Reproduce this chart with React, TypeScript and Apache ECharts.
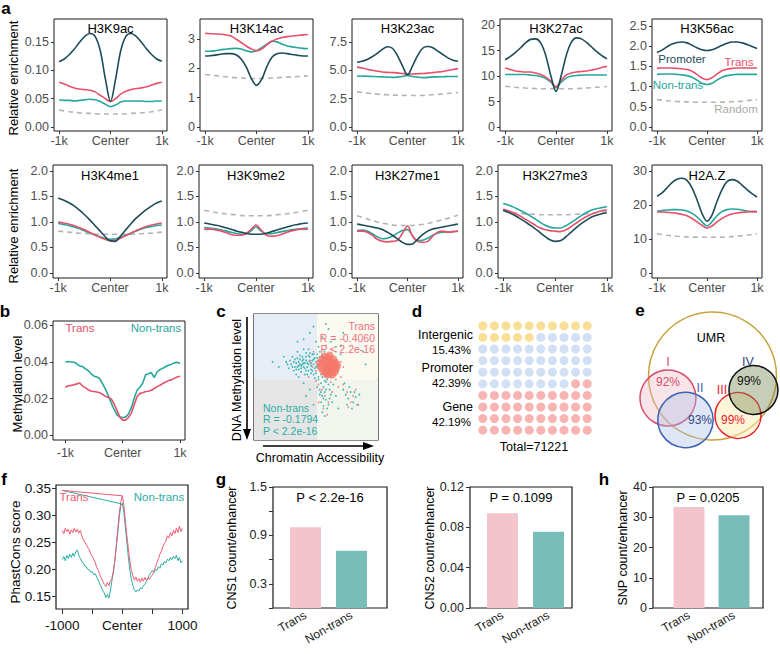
import React, { useEffect, useRef } from "react";
import * as echarts from "echarts";

const FONT = "'Liberation Sans', Arial, Helvetica, sans-serif";
const C_PRO = "#1d4b59";
const C_TR = "#e8506a";
const C_NT = "#25a69b";
const C_RD = "#b3b3b3";

// ---------------- panel a : enrichment profiles ----------------
const XS = [-1000, -900, -800, -700, -600, -500, -400, -300, -200, -100, 0, 100, 200, 300, 400, 500, 600, 700, 800, 900, 1000];
const XR = [-1000, -800, -600, -400, -200, 0, 200, 400, 600, 800, 1000];
const markTitles = ["H3K9ac", "H3K14ac", "H3K23ac", "H3K27ac", "H3K56ac", "H3K4me1", "H3K9me2", "H3K27me1", "H3K27me3", "H2A.Z"];

const h3k9acPro = [0.115, 0.12, 0.128, 0.138, 0.15, 0.16, 0.165, 0.16, 0.135, 0.085, 0.045, 0.085, 0.135, 0.16, 0.165, 0.16, 0.15, 0.138, 0.128, 0.12, 0.116];
const h3k9acTr = [0.079, 0.076, 0.072, 0.069, 0.067, 0.066, 0.065, 0.062, 0.056, 0.05, 0.045, 0.05, 0.058, 0.063, 0.066, 0.068, 0.069, 0.071, 0.074, 0.077, 0.079];
const h3k9acNt = [0.048, 0.047, 0.047, 0.046, 0.047, 0.048, 0.049, 0.048, 0.045, 0.04, 0.036, 0.039, 0.044, 0.046, 0.046, 0.046, 0.046, 0.045, 0.045, 0.046, 0.046];
const h3k9acRd = [0.03, 0.027, 0.025, 0.024, 0.023, 0.023, 0.023, 0.024, 0.025, 0.027, 0.03];

const h3k14acPro = [2.42, 2.43, 2.45, 2.48, 2.5, 2.5, 2.46, 2.32, 2.05, 1.65, 1.42, 1.62, 2.05, 2.38, 2.5, 2.52, 2.5, 2.47, 2.44, 2.42, 2.42];
const h3k14acTr = [3.19, 3.18, 3.17, 3.16, 3.14, 3.1, 3.0, 2.88, 2.76, 2.66, 2.6, 2.66, 2.8, 2.92, 3.0, 3.05, 3.08, 3.1, 3.12, 3.14, 3.15];
const h3k14acNt = [2.58, 2.58, 2.6, 2.63, 2.65, 2.67, 2.68, 2.66, 2.6, 2.56, 2.6, 2.7, 2.82, 2.92, 2.9, 2.82, 2.76, 2.73, 2.7, 2.68, 2.67];
const h3k14acRd = [1.79, 1.75, 1.71, 1.68, 1.66, 1.65, 1.66, 1.68, 1.7, 1.72, 1.74];

const h3k23acPro = [5.72, 5.8, 5.95, 6.2, 6.5, 6.85, 7.08, 6.95, 6.3, 5.4, 4.6, 5.4, 6.3, 6.95, 7.1, 7.0, 6.7, 6.4, 6.1, 5.9, 5.8];
const h3k23acTr = [5.28, 5.2, 5.1, 5.0, 4.92, 4.86, 4.82, 4.8, 4.78, 4.72, 4.68, 4.68, 4.7, 4.72, 4.75, 4.8, 4.85, 4.9, 4.98, 5.08, 5.15];
const h3k23acNt = [4.48, 4.5, 4.48, 4.46, 4.44, 4.42, 4.4, 4.38, 4.4, 4.45, 4.55, 4.45, 4.4, 4.36, 4.38, 4.42, 4.42, 4.44, 4.45, 4.46, 4.46];
const h3k23acRd = [3.1, 3.0, 2.9, 2.84, 2.8, 2.78, 2.78, 2.82, 2.88, 2.96, 3.05];

const h3k27acPro = [13.2, 13.8, 14.6, 15.5, 16.5, 17.2, 17.3, 16.5, 14.0, 10.0, 7.0, 10.0, 14.0, 16.6, 17.5, 17.3, 16.6, 15.7, 14.8, 14.0, 13.4];
const h3k27acTr = [11.6, 11.3, 11.0, 10.9, 10.8, 10.8, 10.6, 10.3, 9.8, 9.0, 7.9, 9.2, 10.2, 10.6, 10.8, 10.9, 11.0, 11.2, 11.4, 11.7, 11.9];
const h3k27acNt = [10.3, 10.3, 10.3, 10.3, 10.3, 10.2, 10.1, 9.9, 9.5, 8.8, 7.7, 8.8, 9.6, 10.0, 10.1, 10.2, 10.2, 10.2, 10.2, 10.2, 10.2];
const h3k27acRd = [8.0, 7.8, 7.65, 7.55, 7.5, 7.5, 7.5, 7.55, 7.65, 7.8, 7.95];

const h3k56acPro = [1.84, 1.9, 1.98, 2.05, 2.09, 2.1, 2.08, 2.02, 1.96, 1.91, 1.89, 1.91, 1.96, 2.02, 2.07, 2.1, 2.1, 2.08, 2.04, 1.99, 1.94];
const h3k56acTr = [1.45, 1.46, 1.46, 1.46, 1.45, 1.44, 1.42, 1.38, 1.3, 1.21, 1.17, 1.22, 1.31, 1.39, 1.43, 1.45, 1.46, 1.46, 1.46, 1.46, 1.46];
const h3k56acNt = [1.3, 1.31, 1.31, 1.31, 1.3, 1.29, 1.27, 1.23, 1.16, 1.08, 1.05, 1.08, 1.16, 1.23, 1.27, 1.29, 1.3, 1.3, 1.3, 1.3, 1.3];
const h3k56acRd = [0.68, 0.65, 0.63, 0.62, 0.61, 0.61, 0.61, 0.62, 0.63, 0.65, 0.68];

const h3k4me1Pro = [1.47, 1.43, 1.38, 1.32, 1.24, 1.15, 1.05, 0.94, 0.83, 0.72, 0.63, 0.62, 0.72, 0.84, 0.96, 1.07, 1.16, 1.24, 1.31, 1.37, 1.41];
const h3k4me1Tr = [1.0, 0.98, 0.96, 0.93, 0.89, 0.85, 0.8, 0.75, 0.7, 0.66, 0.63, 0.64, 0.68, 0.73, 0.78, 0.83, 0.87, 0.91, 0.94, 0.96, 0.98];
const h3k4me1Nt = [0.97, 0.95, 0.93, 0.9, 0.87, 0.83, 0.79, 0.75, 0.71, 0.68, 0.66, 0.67, 0.7, 0.74, 0.78, 0.82, 0.86, 0.89, 0.91, 0.93, 0.94];
const h3k4me1Rd = [0.82, 0.8, 0.78, 0.77, 0.76, 0.76, 0.76, 0.76, 0.77, 0.78, 0.8];

const h3k9me2Pro = [0.98, 0.96, 0.94, 0.92, 0.89, 0.86, 0.83, 0.8, 0.78, 0.76, 0.76, 0.76, 0.78, 0.81, 0.84, 0.87, 0.9, 0.93, 0.95, 0.97, 0.98];
const h3k9me2Tr = [0.86, 0.86, 0.85, 0.83, 0.8, 0.76, 0.74, 0.74, 0.77, 0.85, 0.94, 0.84, 0.74, 0.72, 0.73, 0.76, 0.8, 0.83, 0.85, 0.86, 0.86];
const h3k9me2Nt = [0.89, 0.88, 0.87, 0.85, 0.83, 0.8, 0.78, 0.76, 0.76, 0.82, 0.9, 0.82, 0.77, 0.77, 0.79, 0.81, 0.83, 0.85, 0.86, 0.87, 0.88];
const h3k9me2Rd = [1.23, 1.19, 1.16, 1.14, 1.12, 1.12, 1.12, 1.14, 1.16, 1.19, 1.23];

const h3k27me1Pro = [0.96, 0.94, 0.92, 0.9, 0.88, 0.85, 0.8, 0.74, 0.67, 0.6, 0.56, 0.57, 0.66, 0.75, 0.82, 0.86, 0.88, 0.9, 0.92, 0.94, 0.96];
const h3k27me1Tr = [0.82, 0.82, 0.8, 0.74, 0.66, 0.62, 0.61, 0.62, 0.64, 0.78, 0.92, 0.72, 0.62, 0.6, 0.62, 0.72, 0.8, 0.82, 0.8, 0.81, 0.82];
const h3k27me1Nt = [0.83, 0.84, 0.82, 0.77, 0.71, 0.67, 0.68, 0.72, 0.78, 0.83, 0.85, 0.73, 0.63, 0.64, 0.68, 0.74, 0.78, 0.8, 0.8, 0.81, 0.82];
const h3k27me1Rd = [1.12, 1.06, 1.0, 0.96, 0.93, 0.93, 0.94, 0.97, 1.02, 1.07, 1.13];

const h3k27me3Pro = [1.23, 1.19, 1.14, 1.08, 1.02, 0.95, 0.88, 0.8, 0.72, 0.65, 0.62, 0.63, 0.7, 0.79, 0.88, 0.96, 1.03, 1.09, 1.13, 1.16, 1.18];
const h3k27me3Tr = [1.25, 1.22, 1.18, 1.13, 1.07, 1.01, 0.95, 0.89, 0.85, 0.83, 0.82, 0.81, 0.84, 0.9, 0.97, 1.04, 1.1, 1.15, 1.19, 1.22, 1.24];
const h3k27me3Nt = [1.36, 1.33, 1.29, 1.24, 1.19, 1.13, 1.07, 1.0, 0.94, 0.9, 0.88, 0.88, 0.92, 0.98, 1.05, 1.12, 1.18, 1.23, 1.26, 1.28, 1.3];
const h3k27me3Rd = [1.22, 1.18, 1.16, 1.15, 1.14, 1.14, 1.14, 1.15, 1.16, 1.18, 1.21];

const h2azPro = [22.5, 23.5, 25.0, 26.5, 27.5, 27.8, 27.2, 25.0, 21.5, 17.5, 15.2, 17.0, 21.0, 24.5, 26.8, 27.4, 27.0, 25.8, 24.5, 23.3, 22.3];
const h2azTr = [17.9, 17.9, 17.8, 17.7, 17.5, 17.2, 16.8, 16.0, 15.0, 14.0, 13.2, 13.8, 15.0, 16.0, 16.8, 17.3, 17.6, 17.8, 17.9, 18.0, 18.0];
const h2azNt = [18.1, 18.3, 18.5, 18.6, 18.6, 18.5, 18.2, 17.5, 16.5, 15.0, 13.8, 15.0, 16.8, 18.0, 18.6, 18.8, 18.7, 18.5, 18.2, 18.0, 18.0];
const h2azRd = [11.5, 11.1, 10.8, 10.6, 10.5, 10.5, 10.5, 10.6, 10.8, 11.1, 11.5];

const aTickLabels = ["-1k", "Center", "1k"];
const aYTicks = [
  [0, 0.05, 0.1, 0.15], [0, 1, 2, 3], [0, 2.5, 5, 7.5], [0, 5, 10, 15, 20], [0, 0.5, 1, 1.5, 2, 2.5],
  [0, 0.5, 1, 1.5, 2], [0, 0.5, 1, 1.5, 2], [0, 0.5, 1, 1.5, 2], [0, 0.5, 1, 1.5, 2], [0, 10, 20, 30],
];
const aYDecimals = [2, 0, 1, 0, 1, 1, 1, 1, 1, 0];
const aLegend = ["Promoter", "Trans", "Non-trans", "Random"];

// ---------------- panel b : methylation ----------------
const XB = [-1000, -950, -900, -850, -800, -750, -700, -650, -600, -550, -500, -450, -400, -350, -300, -250, -200, -150, -100, -50, 0, 50, 100, 150, 200, 250, 300, 350, 400, 450, 500, 550, 600, 650, 700, 750, 800, 850, 900, 950, 1000];
const bNonTrans = [0.04, 0.0402, 0.04, 0.0398, 0.039, 0.0378, 0.0375, 0.0362, 0.0352, 0.0335, 0.0322, 0.0318, 0.0308, 0.028, 0.025, 0.0215, 0.0175, 0.014, 0.011, 0.0098, 0.0096, 0.0098, 0.0115, 0.015, 0.02, 0.0245, 0.0262, 0.0285, 0.033, 0.0335, 0.0342, 0.0315, 0.0345, 0.0358, 0.0365, 0.0375, 0.0382, 0.0388, 0.0395, 0.0398, 0.0392];
const bTrans = [0.0262, 0.027, 0.0272, 0.0275, 0.028, 0.0285, 0.0268, 0.0258, 0.0248, 0.024, 0.0238, 0.0236, 0.0232, 0.0222, 0.0212, 0.0205, 0.0198, 0.017, 0.0135, 0.0098, 0.0082, 0.0082, 0.0095, 0.012, 0.0165, 0.021, 0.0228, 0.0232, 0.0238, 0.024, 0.0245, 0.0255, 0.0265, 0.0272, 0.0282, 0.029, 0.0298, 0.0302, 0.031, 0.0318, 0.0322];
const bYTicks = [0, 0.02, 0.04, 0.06];

// ---------------- panel c : scatter ----------------
const cNonTransPts = [
  [30, 60], [32, 55], [33, 64], [35, 58], [36, 62], [37, 67], [38, 54], [39, 60], [40, 64], [41, 57], [42, 69], [43, 61], [44, 55], [45, 66], [46, 59], [47, 63], [48, 52], [48, 68], [49, 57], [50, 62], [51, 65], [52, 50], [53, 70], [34, 52], [40, 72], [28, 57], [36, 50], [44, 72], [31, 66], [26, 62],
  [38, 59], [42, 63], [46, 56], [35, 65], [41, 52], [47, 68], [50, 58], [44, 60], [39, 66], [33, 58],
  [29, 63], [31, 58], [34, 61], [36, 56], [37, 60], [39, 63], [41, 61], [43, 58], [45, 63], [46, 53], [48, 60], [49, 65], [50, 53], [51, 59], [52, 63], [53, 55], [38, 57], [40, 58], [42, 55], [44, 67],
  [47, 55], [49, 49], [51, 68], [53, 66], [45, 69], [43, 52], [37, 64], [35, 70], [32, 62], [27, 60], [55, 68], [57, 70], [54, 52], [52, 57], [46, 61], [48, 64], [42, 66], [40, 61], [36, 59], [34, 56],
  [40, 80], [45, 85], [50, 78], [55, 82], [60, 88], [65, 80], [70, 75], [48, 90], [58, 92], [62, 78], [72, 85], [35, 78], [52, 74], [66, 74],
  [52, 48], [54, 45], [56, 42], [53, 40], [57, 38], [55, 35], [58, 32], [54, 30], [56, 27], [59, 25], [55, 22], [57, 19], [60, 44], [61, 40], [58, 46], [62, 36], [60, 28], [63, 30], [53, 36], [51, 42], [59, 48], [62, 50], [64, 44], [55, 50], [57, 47], [56, 33], [58, 40], [54, 38], [61, 33],
  [72, 40], [74, 36], [76, 33], [78, 38], [80, 30], [82, 34], [84, 28], [75, 28], [79, 25], [73, 45], [77, 42], [81, 38], [85, 36],
  [20, 58], [24, 66], [15, 62], [90, 60], [88, 70], [68, 55], [70, 68], [45, 40], [40, 45], [66, 35], [68, 25], [48, 28], [42, 35],
];
const cTransPts = [
  [45, 62], [48, 70], [50, 47], [52, 44], [55, 40], [57, 35], [60, 30], [62, 46], [66, 48], [70, 50], [72, 44], [75, 38], [78, 30], [80, 35], [83, 28],
  [58, 75], [62, 72], [66, 70], [50, 55], [47, 58], [70, 62], [72, 58], [56, 25], [63, 38], [68, 42], [52, 30], [59, 20], [76, 26], [82, 40], [44, 50],
];
const cTransCore = [
  [54, 58], [56, 55], [56, 61], [58, 53], [58, 58], [58, 63], [60, 56], [60, 60], [60, 65], [62, 54], [62, 58], [62, 62], [64, 56], [64, 60], [64, 64],
  [66, 57], [66, 61], [57, 66], [61, 67], [55, 64], [53, 61], [63, 52], [59, 52], [67, 59], [65, 54],
];
const cTransStats = ["Trans", "R = -0.4060", "P < 2.2e-16"];
const cNonTransStats = ["Non-trans", "R = -0.1794", "P < 2.2e-16"];

// ---------------- panel d : waffle ----------------
const dCategories = ["Intergenic", "Promoter", "Gene"];
const dPercents = ["15.43%", "42.39%", "42.19%"];
const dDotCounts = [15, 43, 42];
const dTotal = "Total=71221";

// ---------------- panel e : venn ----------------
const eNumerals = ["I", "II", "III", "IV"];
const ePercents = ["92%", "93%", "99%", "99%"];

// ---------------- panel f : phastcons ----------------
const XF = [-1000, -975, -950, -925, -900, -875, -850, -825, -800, -775, -750, -725, -700, -675, -650, -625, -600, -575, -550, -525, -500, -475, -450, -425, -400, -375, -350, -325, -300, -275, -250, -225, -200, -175, -150, -125, -100, -75, -50, -25, 0, 25, 50, 75, 100, 125, 150, 175, 200, 225, 250, 275, 300, 325, 350, 375, 400, 425, 450, 475, 500, 525, 550, 575, 600, 625, 650, 675, 700, 725, 750, 775, 800, 825, 850, 875, 900, 925, 950, 975, 1000];
const fTrans = [0.272, 0.266, 0.276, 0.27, 0.274, 0.265, 0.273, 0.268, 0.276, 0.269, 0.274, 0.267, 0.272, 0.262, 0.255, 0.25, 0.246, 0.24, 0.236, 0.228, 0.224, 0.218, 0.212, 0.203, 0.198, 0.19, 0.184, 0.178, 0.172, 0.168, 0.176, 0.17, 0.178, 0.183, 0.195, 0.215, 0.245, 0.275, 0.305, 0.325, 0.336, 0.318, 0.29, 0.262, 0.238, 0.215, 0.198, 0.188, 0.18, 0.186, 0.178, 0.183, 0.176, 0.184, 0.178, 0.185, 0.18, 0.184, 0.182, 0.186, 0.19, 0.196, 0.204, 0.212, 0.22, 0.228, 0.234, 0.242, 0.248, 0.252, 0.262, 0.258, 0.268, 0.262, 0.272, 0.266, 0.276, 0.268, 0.28, 0.27, 0.276];
const fNonTrans = [0.218, 0.224, 0.216, 0.226, 0.22, 0.228, 0.222, 0.23, 0.224, 0.232, 0.236, 0.226, 0.22, 0.214, 0.212, 0.206, 0.205, 0.2, 0.199, 0.195, 0.196, 0.19, 0.192, 0.185, 0.18, 0.172, 0.168, 0.16, 0.156, 0.148, 0.154, 0.147, 0.16, 0.178, 0.196, 0.218, 0.242, 0.268, 0.298, 0.318, 0.322, 0.305, 0.278, 0.25, 0.222, 0.198, 0.182, 0.17, 0.162, 0.158, 0.162, 0.16, 0.166, 0.164, 0.17, 0.172, 0.178, 0.182, 0.19, 0.194, 0.198, 0.194, 0.2, 0.198, 0.205, 0.202, 0.21, 0.208, 0.215, 0.212, 0.219, 0.216, 0.222, 0.218, 0.224, 0.22, 0.226, 0.216, 0.222, 0.212, 0.216];
const fTransSpur = [[-1000, 0.346], [0, 0.336]];
const fNonTransSpur = [[-1000, 0.346], [-10, 0.321]];
const fYTicks = [0.15, 0.2, 0.25, 0.3, 0.35];
const fXTicks = [-1000, -500, 0, 500, 1000];

// ---------------- panels g, h : bars ----------------
const barCats = ["Trans", "Non-trans"];
const cns1 = [1.0, 0.71];
const cns2 = [0.094, 0.0755];
const snp = [33.4, 30.7];
const pValues = ["P < 2.2e-16", "P = 0.1099", "P = 0.0205"];
const barNames = ["CNS1 count/enhancer", "CNS2 count/enhancer", "SNP count/enhancer"];

// ---------------- layout (positions/styles) ----------------
const A_LAYOUT = [
  { left: 54, top: 19, width: 113, height: 112, min: -0.00706, max: 0.1906 },
  { left: 200, top: 19, width: 113, height: 112, min: -0.136, max: 3.68 },
  { left: 352, top: 19, width: 111, height: 112, min: -0.353, max: 9.53 },
  { left: 500, top: 19, width: 112, height: 112, min: -0.78, max: 21.2 },
  { left: 652, top: 19, width: 110, height: 112, min: -0.099, max: 2.67 },
  { left: 53, top: 165, width: 114, height: 113, min: -0.098, max: 2.115 },
  { left: 199, top: 165, width: 114, height: 113, min: -0.098, max: 2.115 },
  { left: 352, top: 165, width: 111, height: 113, min: -0.098, max: 2.115 },
  { left: 498, top: 165, width: 114, height: 113, min: -0.098, max: 2.115 },
  { left: 652, top: 165, width: 110, height: 113, min: -1.47, max: 31.7 },
];

function buildOption() {
  const grids: any[] = [];
  const xAxes: any[] = [];
  const yAxes: any[] = [];
  const series: any[] = [];
  const g: any[] = [];

  const txt = (text: string, x: number, y: number, o: any = {}) => ({
    type: "text",
    x,
    y,
    rotation: o.rot || 0,
    silent: true,
    z: 100,
    style: {
      text,
      fill: o.color || "#000",
      fontSize: o.size || 12,
      fontFamily: FONT,
      fontWeight: o.weight || "normal",
      align: o.align || "center",
      textAlign: o.align || "center",
      verticalAlign: o.va || "middle",
      textVerticalAlign: o.va || "middle",
    },
  });

  const tickStyle = (vals: number[], len = 3) => ({ show: true, customValues: vals, length: len, lineStyle: { color: "#333", width: 1 } });
  const noLine = { show: false, onZero: false };

  const addGrid = (l: number, t: number, w: number, h: number, border = true, bw = 1) => {
    grids.push({ left: l, top: t, width: w, height: h, show: border, borderColor: "#1a1a1a", borderWidth: bw, backgroundColor: "transparent" });
    return grids.length - 1;
  };

  const lineSeries = (gi: number, xs: number[], ys: number[], color: string, width: number, dashed = false, smooth: any = 0.35, z = 2) => ({
    type: "line",
    xAxisIndex: gi,
    yAxisIndex: gi,
    data: xs.map((x, i) => [x, ys[i]]),
    symbol: "none",
    smooth,
    silent: true,
    z,
    lineStyle: { color, width, type: dashed ? [5, 4] : "solid" },
  });

  // ---- panel a ----
  const aData = [
    [h3k9acPro, h3k9acTr, h3k9acNt, h3k9acRd],
    [h3k14acPro, h3k14acTr, h3k14acNt, h3k14acRd],
    [h3k23acPro, h3k23acTr, h3k23acNt, h3k23acRd],
    [h3k27acPro, h3k27acTr, h3k27acNt, h3k27acRd],
    [h3k56acPro, h3k56acTr, h3k56acNt, h3k56acRd],
    [h3k4me1Pro, h3k4me1Tr, h3k4me1Nt, h3k4me1Rd],
    [h3k9me2Pro, h3k9me2Tr, h3k9me2Nt, h3k9me2Rd],
    [h3k27me1Pro, h3k27me1Tr, h3k27me1Nt, h3k27me1Rd],
    [h3k27me3Pro, h3k27me3Tr, h3k27me3Nt, h3k27me3Rd],
    [h2azPro, h2azTr, h2azNt, h2azRd],
  ];
  A_LAYOUT.forEach((L, i) => {
    const gi = addGrid(L.left, L.top, L.width, L.height);
    const dec = aYDecimals[i];
    xAxes.push({
      type: "value", gridIndex: gi, min: -1100, max: 1100,
      axisLine: noLine, splitLine: { show: false },
      axisTick: tickStyle([-1000, 0, 1000]),
      axisLabel: { customValues: [-1000, 0, 1000], formatter: (v: number) => (v < 0 ? aTickLabels[0] : v === 0 ? aTickLabels[1] : aTickLabels[2]), color: "#4d4d4d", fontSize: 12.5, fontFamily: FONT, margin: 3 },
    });
    yAxes.push({
      type: "value", gridIndex: gi, min: L.min, max: L.max,
      axisLine: noLine, splitLine: { show: false },
      axisTick: tickStyle(aYTicks[i]),
      axisLabel: { customValues: aYTicks[i], formatter: (v: number) => v.toFixed(dec), color: "#4d4d4d", fontSize: 12.5, fontFamily: FONT, margin: 5 },
    });
    const [pro, tr, nt, rd] = aData[i];
    series.push(lineSeries(gi, XR, rd, C_RD, 1.6, true));
    series.push(lineSeries(gi, XS, nt, C_NT, 1.6));
    series.push(lineSeries(gi, XS, tr, C_TR, 1.6));
    series.push(lineSeries(gi, XS, pro, C_PRO, 1.6));
    g.push(txt(markTitles[i], L.left + L.width / 2, L.top + (i < 5 ? 9 : 10.5), { size: 13 }));
  });
  // legend inside H3K56ac
  g.push(txt(aLegend[0], 682, 59, { color: C_PRO, size: 11.5 }));
  g.push(txt(aLegend[1], 739, 62, { color: C_TR, size: 11.5 }));
  g.push(txt(aLegend[2], 678, 85, { color: C_NT, size: 11.5 }));
  g.push(txt(aLegend[3], 736, 109, { color: "#aaaaaa", size: 11.5 }));
  g.push(txt("Relative enrichment", 13, 78, { rot: Math.PI / 2, size: 13 }));
  g.push(txt("Relative enrichment", 13, 226, { rot: Math.PI / 2, size: 13 }));

  // ---- panel b ----
  {
    const gi = addGrid(53, 321, 132, 119);
    xAxes.push({
      type: "value", gridIndex: gi, min: -1217, max: 1087,
      axisLine: noLine, splitLine: { show: false },
      axisTick: tickStyle([-1000, 0, 1000]),
      axisLabel: { customValues: [-1000, 0, 1000], formatter: (v: number) => (v < 0 ? aTickLabels[0] : v === 0 ? aTickLabels[1] : aTickLabels[2]), color: "#4d4d4d", fontSize: 12.5, fontFamily: FONT, margin: 6 },
    });
    yAxes.push({
      type: "value", gridIndex: gi, min: -0.0027, max: 0.0624,
      axisLine: noLine, splitLine: { show: false },
      axisTick: tickStyle(bYTicks),
      axisLabel: { customValues: bYTicks, formatter: (v: number) => v.toFixed(2), color: "#4d4d4d", fontSize: 12.5, fontFamily: FONT, margin: 5 },
    });
    series.push(lineSeries(gi, XB, bNonTrans, C_NT, 1.6, false, false));
    series.push(lineSeries(gi, XB, bTrans, C_TR, 1.6, false, false));
    g.push(txt("Trans", 80, 328, { color: C_TR, size: 11.5 }));
    g.push(txt("Non-trans", 156, 328, { color: C_NT, size: 11.5 }));
    g.push(txt("Methylation level", 17, 384, { rot: Math.PI / 2, size: 13 }));
  }

  // ---- panel c ----
  {
    const gi = addGrid(254, 314, 124, 126, true, 1.2);
    xAxes.push({ type: "value", gridIndex: gi, min: 0, max: 100, show: false, axisLine: noLine });
    yAxes.push({ type: "value", gridIndex: gi, min: 0, max: 100, show: false, axisLine: noLine });
    series.push({
      type: "scatter", xAxisIndex: gi, yAxisIndex: gi, data: [[-50, -50]], symbolSize: 1, silent: true, z: 1,
      markArea: {
        silent: true,
        data: [
          [{ coord: [0, 48], itemStyle: { color: "#e6edf7" } }, { coord: [51, 100] }],
          [{ coord: [51, 48], itemStyle: { color: "#fbfaf0" } }, { coord: [100, 100] }],
          [{ coord: [0, 0], itemStyle: { color: "#e5e5e5" } }, { coord: [51, 48] }],
          [{ coord: [51, 0], itemStyle: { color: "#f2f4ee" } }, { coord: [100, 48] }],
        ],
      },
    });
    series.push({ type: "scatter", xAxisIndex: gi, yAxisIndex: gi, data: cNonTransPts, symbolSize: 1.8, silent: true, z: 3, itemStyle: { color: "#22b0a6", opacity: 0.85 } });
    series.push({ type: "scatter", xAxisIndex: gi, yAxisIndex: gi, data: cTransPts, symbolSize: 1.8, silent: true, z: 3, itemStyle: { color: "#f2776c", opacity: 0.85 } });
    series.push({ type: "scatter", xAxisIndex: gi, yAxisIndex: gi, data: cTransCore, symbolSize: 8, silent: true, z: 4, itemStyle: { color: "#f5786b" } });
    cTransStats.forEach((s, i) => g.push(txt(s, 375, 326 + i * 11.7, { color: "#f0707e", size: 10.5, align: "right" })));
    cNonTransStats.forEach((s, i) => g.push(txt(s, 263, 408 + i * 11.3, { color: "#2aaea3", size: 10.5, align: "left" })));
    // arrows
    g.push({ type: "line", silent: true, z: 100, shape: { x1: 247, y1: 317, x2: 247, y2: 430 }, style: { stroke: "#000", lineWidth: 1.6 } });
    g.push({ type: "polygon", silent: true, z: 100, shape: { points: [[243, 429], [251, 429], [247, 440]] }, style: { fill: "#000" } });
    g.push({ type: "line", silent: true, z: 100, shape: { x1: 263, y1: 446, x2: 364, y2: 446 }, style: { stroke: "#000", lineWidth: 1.6 } });
    g.push({ type: "polygon", silent: true, z: 100, shape: { points: [[363, 442], [363, 450], [374, 446]] }, style: { fill: "#000" } });
    g.push(txt("DNA Methylation level", 237, 380, { rot: Math.PI / 2, size: 12.5 }));
    g.push(txt("Chromatin Accessibility", 320, 458, { size: 12.5 }));
  }

  // ---- panel d ----
  {
    const gi = addGrid(477, 320, 116, 116, false);
    xAxes.push({ type: "value", gridIndex: gi, min: -0.5, max: 9.5, show: false, axisLine: noLine });
    yAxes.push({ type: "value", gridIndex: gi, min: -0.5, max: 9.5, show: false, axisLine: noLine });
    const colors = ["#f7d77a", "#c5d8f3", "#f6a0a0"];
    let idx = 0;
    dDotCounts.forEach((n, k) => {
      const pts: number[][] = [];
      for (let j = 0; j < n; j++, idx++) pts.push([idx % 10, 9 - Math.floor(idx / 10)]);
      series.push({ type: "scatter", xAxisIndex: gi, yAxisIndex: gi, data: pts, symbolSize: 9, silent: true, itemStyle: { color: colors[k] } });
    });
    const ly = [[335, 350], [368, 383], [407, 422]];
    dCategories.forEach((c, k) => {
      g.push(txt(c, 473, ly[k][0], { size: 12.5, align: "right" }));
      g.push(txt(dPercents[k], 471, ly[k][1], { size: 11.5, align: "right" }));
    });
    g.push(txt(dTotal, 534, 447, { size: 12.5 }));
  }

  // ---- panel e (venn) ----
  {
    const circ = (cx: number, cy: number, r: number, stroke: string, fill: string, lw = 1.5) => ({ type: "circle", silent: true, z: 50, shape: { cx, cy, r }, style: { stroke, fill, lineWidth: lw } });
    g.push(circ(712.5, 376, 64, "#c9a23c", "rgba(0,0,0,0)"));
    g.push(circ(668, 398, 28, "#d44f6e", "rgba(238,180,192,0.35)"));
    g.push(circ(685.5, 420, 27.7, "#3e64b3", "rgba(170,190,232,0.38)"));
    g.push(circ(738, 415.5, 23, "#e8222a", "rgba(255,238,180,0.5)"));
    g.push(circ(753.5, 390, 24.5, "#111111", "rgba(105,125,70,0.38)"));
    g.push(txt("UMR", 711, 338, { size: 12.5 }));
    g.push(txt(eNumerals[0], 668, 362, { size: 12.5, color: "#d44f6e" }));
    g.push(txt(ePercents[0], 668, 382, { size: 12, color: "#d44f6e" }));
    g.push(txt(eNumerals[1], 700, 388, { size: 12.5, color: "#3e64b3" }));
    g.push(txt(ePercents[1], 700, 420, { size: 12, color: "#2e4c8c" }));
    g.push(txt(eNumerals[2], 722, 390, { size: 12.5, color: "#e8222a" }));
    g.push(txt(ePercents[2], 733, 420, { size: 12, color: "#e8222a" }));
    g.push(txt(eNumerals[3], 748, 362, { size: 12.5, color: "#2b3f7a" }));
    g.push(txt(ePercents[3], 749, 381, { size: 12, color: "#111" }));
  }

  // ---- panel f ----
  {
    const gi = addGrid(56, 485, 132, 124, true, 1.2);
    xAxes.push({
      type: "value", gridIndex: gi, min: -1105, max: 1093,
      axisLine: noLine, splitLine: { show: false },
      axisTick: tickStyle(fXTicks, 5),
      axisLabel: { customValues: [-1000, 0, 1000], formatter: (v: number) => (v === 0 ? "Center" : String(v)), color: "#111", fontSize: 13.5, fontFamily: FONT, margin: 9 },
    });
    yAxes.push({
      type: "value", gridIndex: gi, min: 0.1267, max: 0.356,
      axisLine: noLine, splitLine: { show: false },
      axisTick: tickStyle(fYTicks, 4),
      axisLabel: { customValues: fYTicks, formatter: (v: number) => v.toFixed(2), color: "#111", fontSize: 13.5, fontFamily: FONT, margin: 5 },
    });
    series.push(lineSeries(gi, XF, fNonTrans, "#2aaea3", 1, false, false));
    series.push(lineSeries(gi, XF, fTrans, "#ee5a72", 1, false, false));
    series.push({ type: "line", xAxisIndex: gi, yAxisIndex: gi, data: fNonTransSpur, symbol: "none", silent: true, lineStyle: { color: "#2aaea3", width: 1 } });
    series.push({ type: "line", xAxisIndex: gi, yAxisIndex: gi, data: fTransSpur, symbol: "none", silent: true, lineStyle: { color: "#ee5a72", width: 1 } });
    g.push(txt("Trans", 74, 497, { color: "#ee5a72", size: 11.5 }));
    g.push(txt("Non-trans", 159, 497, { color: "#2aaea3", size: 11.5 }));
    g.push(txt("PhastCons score", 15, 552, { rot: Math.PI / 2, size: 13.5 }));
  }

  // ---- panels g, h ----
  const barDefs = [
    { left: 273, width: 114, xmin: -0.707, xmax: 1.772, max: 1.5, ticks: [0, 0.3, 0.6, 0.9, 1.2, 1.5], labels: [0.3, 0.9, 1.5], dec: 1, vals: cns1, nameX: 232 },
    { left: 470, width: 102, xmin: -0.707, xmax: 1.51, max: 0.12, ticks: [0, 0.04, 0.08, 0.12], labels: [0, 0.04, 0.08, 0.12], dec: 2, vals: cns2, nameX: 430 },
    { left: 653, width: 110, xmin: -0.8, xmax: 1.644, max: 40, ticks: [0, 10, 20, 30, 40], labels: [0, 10, 20, 30, 40], dec: 0, vals: snp, nameX: 623 },
  ];
  const barColors = ["#f2c5cc", "#78bdb8"];
  barDefs.forEach((B, k) => {
    const gi = addGrid(B.left, 487, B.width, 121, true, 1.2);
    xAxes.push({
      type: "value", gridIndex: gi, min: B.xmin, max: B.xmax,
      axisLine: noLine, splitLine: { show: false }, axisTick: { show: false },
      axisLabel: { customValues: [0, 1], formatter: (v: number) => barCats[Math.round(v)], rotate: 30, color: "#222", fontSize: 12, fontFamily: FONT, margin: 6 },
    });
    yAxes.push({
      type: "value", gridIndex: gi, min: 0, max: B.max,
      axisLine: noLine, splitLine: { show: false },
      axisTick: tickStyle(B.ticks, 4),
      axisLabel: { customValues: B.labels, formatter: (v: number) => v.toFixed(B.dec), color: "#222", fontSize: 12.5, fontFamily: FONT, margin: 6 },
    });
    series.push({
      type: "bar", xAxisIndex: gi, yAxisIndex: gi, barWidth: 31, silent: true,
      data: B.vals.map((v, i) => ({ value: [i, v], itemStyle: { color: barColors[i] } })),
    });
    g.push(txt(pValues[k], B.left + B.width / 2, 497, { size: 13 }));
    g.push(txt(barNames[k], B.nameX, 548, { rot: Math.PI / 2, size: 12.5 }));
  });

  // ---- panel letters ----
  const letters: [string, number, number][] = [["a", 6, 0], ["b", 5, 303], ["c", 221, 303], ["d", 417, 303], ["e", 640, 302], ["f", 4, 471], ["g", 221, 471], ["h", 604, 471]];
  letters.forEach(([s, x, y]) => g.push(txt(s, x, y, { size: 17, weight: "bold", va: "top" })));

  return {
    animation: false,
    backgroundColor: "#ffffff",
    grid: grids,
    xAxis: xAxes,
    yAxis: yAxes,
    series,
    graphic: { elements: g },
  };
}

export default function App() {
  const ref = useRef<HTMLDivElement>(null);
  useEffect(() => {
    if (!ref.current) return;
    const chart = echarts.init(ref.current, undefined, { renderer: "svg" });
    chart.setOption(buildOption() as any);
    return () => chart.dispose();
  }, []);
  return <div ref={ref} style={{ position: "fixed", left: 0, top: 0, width: 780, height: 654, background: "#fff" }} />;
}
